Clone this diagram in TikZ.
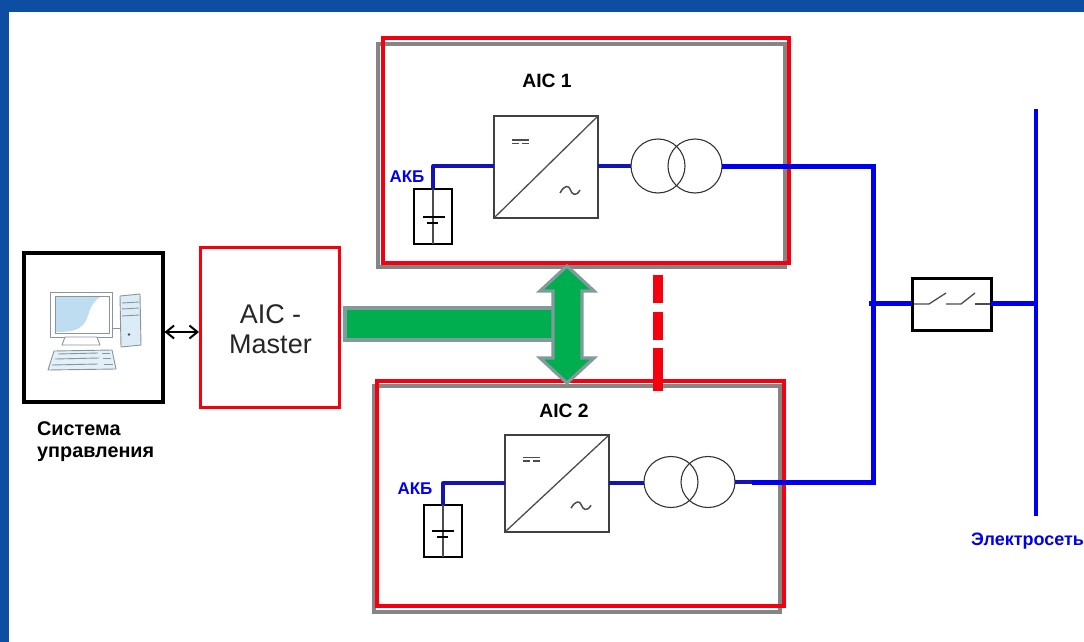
\documentclass[tikz,border=0pt]{standalone}
\usepackage{fontspec}
\setmainfont{Liberation Sans}
\usetikzlibrary{arrows.meta}
\definecolor{frameblue}{HTML}{0D4EA3}
\definecolor{aicred}{HTML}{F5000F}
\definecolor{shadowgray}{HTML}{858585}
\definecolor{busblue}{HTML}{0000F0}
\definecolor{wireblue}{HTML}{1414B4}
\definecolor{busgreen}{HTML}{00AE50}
\definecolor{busedge}{HTML}{7F9B9B}
\definecolor{pcline}{HTML}{8A949A}
\definecolor{pcblue}{HTML}{BFDDF0}
\tikzset{
  pxbox/.style={rectangle,inner sep=0pt,outer sep=0pt,draw,anchor=center},
  redbox/.style={pxbox,draw=aicred,line width=3.4pt},
  graybox/.style={pxbox,draw=shadowgray,line width=3.4pt},
  blackbox/.style={pxbox,draw=black,line width=3.2pt},
  convbox/.style={pxbox,draw=black!75,line width=1.5pt,minimum width=104pt},
  battbox/.style={pxbox,draw=black,line width=2pt,minimum width=38pt},
  thinwire/.style={draw=wireblue,line width=3.2pt},
  thickwire/.style={draw=busblue,line width=5pt},
  symline/.style={draw=black!70,line width=1.3pt},
  coil/.style={draw=black!80,line width=1.1pt},
  pc/.style={draw=pcline,line width=0.9pt,line join=round},
  bluelabel/.style={text=busblue,font=\bfseries\fontsize{17}{20}\selectfont,inner sep=0pt},
  gridlabel/.style={text=busblue,font=\bfseries\fontsize{18}{20}\selectfont,inner sep=0pt},
  blacklabel/.style={text=black,font=\bfseries\fontsize{19.3}{22}\selectfont,inner sep=0pt},
}
\newcommand{\convsym}{%
  \draw[symline] (0,102) -- (104,0);
  \draw[symline] (18,24) -- (35,24);
  \draw[symline,dash pattern=on 7pt off 3pt] (18,27.5) -- (35,27.5);
  \draw[symline,line width=1.5pt] (66,77) .. controls (71,68) and (75,70) .. (76,73) .. controls (78,79) and (82,81) .. (86,74);
}
\begin{document}
\begin{tikzpicture}[x=1pt,y=-1pt]
\useasboundingbox (0,0) rectangle (1084,642);
\fill[frameblue] (0,0) rectangle (1084,642);
\fill[white] (9,12) rectangle (1084,642);

% control system
\node[blackbox,minimum width=139pt,minimum height=149pt] (pcbox) at (93.5,327.5) {};
\begin{scope}
  \filldraw[pc,fill=white] (50,292) -- (112,292) -- (112,337) -- (50,337) -- cycle;
  \filldraw[pc,fill=white] (55,296) -- (109,296) -- (109,333) -- (55,333) -- cycle;
  \fill[pcblue] (56,297) -- (100,297) .. controls (87,306) and (90,318) .. (83,325) .. controls (78,330) and (72,332) .. (56,332) -- cycle;
  \filldraw[pc,fill=white] (65,337) -- (97,337) -- (100,345) -- (62,345) -- cycle;
  \filldraw[pc,fill=pcblue!55] (120,296) -- (140,294) -- (141,345) -- (121,347) -- cycle;
  \draw[pc] (122,303) -- (139,302) (122,309) -- (139,308) (122,316) -- (139,315);
  \fill[black!70] (129,334.5) circle (1.4pt);
  \draw[pc] (112,328) -- (120,328);
  \filldraw[pc,fill=pcblue!45] (54,351) -- (112,350) -- (116,369) -- (48,370) -- cycle;
  \draw[pc] (58,354) -- (98,353) (55,359) -- (99,358) (52,365) -- (98,364);
  \draw[pc] (102,353) -- (110,353) (103,358) -- (111,358) (104,364) -- (113,364);
\end{scope}
\node[blacklabel,font=\bfseries\fontsize{19.8}{22}\selectfont,align=left,anchor=north west,text width=125pt] (pclabel) at (37,421.5) {Система\\управления};

% master
\node[redbox,minimum width=139pt,minimum height=160pt] (master) at (270,327.5) {};
\node[text=black!85,font=\fontsize{27}{30}\selectfont,align=center,inner sep=0pt] (mastertext) at (270.5,329.5) {AIC -\\Master};
\draw[{Straight Barb[length=8pt,width=13pt]}-{Straight Barb[length=8pt,width=13pt]},line width=2pt,shorten <=1.5pt,shorten >=1.5pt] (pcbox.east |- 0,332) -- (master.west |- 0,332);

% AIC 1
\node[graybox,minimum width=407pt,minimum height=223pt] (g1) at (581.5,155.5) {};
\node[redbox,minimum width=406pt,minimum height=225pt] (aic1) at (586,150.5) {};
\node[blacklabel] (t1) at (547,81) {AIC 1};
\node[convbox,minimum height=102pt] (conv1) at (546,167) {};
\begin{scope}[shift={(494,116)}]\convsym\end{scope}
\node[battbox,minimum height=55pt] (bat1) at (433,216.5) {};
\draw[symline] (bat1.north) -- (bat1.south);
\draw[black,line width=2.2pt] (423,217) -- (445,217);
\draw[black,line width=2.2pt] (427,223) -- (438,223);
\node[bluelabel] (akb1) at (407,177) {АКБ};
\draw[coil] (658,166) circle (27pt);
\draw[coil] (695,166) circle (27pt);
\coordinate (t1in) at (631,166);
\coordinate (t1out) at (722,166);
\coordinate (c1in) at (494,166);
\coordinate (c1out) at (598,166);
\draw[thinwire,line join=round] (bat1.north) -- (bat1.north |- c1in) -- (c1in);
\draw[thinwire] (c1out) -- (t1in);

% AIC 2
\node[graybox,minimum width=406pt,minimum height=226pt] (g2) at (577,499) {};
\node[redbox,minimum width=407pt,minimum height=225pt] (aic2) at (580.5,493.5) {};
\node[blacklabel] (t2) at (564,411) {AIC 2};
\node[convbox,minimum height=97pt] (conv2) at (557,483.5) {};
\begin{scope}[shift={(505,435)},yscale=0.95]\convsym\end{scope}
\node[battbox,minimum height=52pt] (bat2) at (443,531) {};
\draw[symline] (bat2.north) -- (bat2.south);
\draw[black,line width=2.2pt] (432,531) -- (454,531);
\draw[black,line width=2.2pt] (437,537) -- (448,537);
\node[bluelabel] (akb2) at (415,489) {АКБ};
\draw[coil] (671,482) ellipse (27pt and 25.5pt);
\draw[coil] (708,482) ellipse (27pt and 25.5pt);
\coordinate (t2in) at (644,483);
\coordinate (t2out) at (735,482);
\coordinate (c2in) at (505,483);
\coordinate (c2out) at (609,483);
\coordinate (t2th) at (752,482);
\draw[thinwire,line join=round] (bat2.north) -- (bat2.north |- c2in) -- (c2in);
\draw[thinwire] (c2out) -- (t2in);
\draw[thinwire] (t2out) -- (t2th);

% right-hand network
\coordinate (jtop) at (873,166);
\coordinate (jbot) at (873,482);
\coordinate (jmid) at (869,303);
\draw[thickwire,line join=miter] (t1out) -- (jtop) -- (jbot) -- (t2th);
\node[blackbox,minimum width=79pt,minimum height=52pt,line width=3pt] (breaker) at (951.5,304) {};
\coordinate (bustop) at (1036,109);
\coordinate (busbot) at (1036,516);
\draw[draw=busblue,line width=4pt] (bustop) -- (busbot);
\draw[thickwire] (jmid) -- (breaker.west |- jmid);
\draw[thickwire] (breaker.east |- jmid) -- (bustop |- jmid);
\draw[symline] (914,304) -- (929,304) -- (946,293);
\draw[symline] (946,304) -- (961,304) -- (975,293);
\draw[symline] (975,304) -- (990,304);
\node[gridlabel,anchor=west] (grid) at (971,541) {Электросеть};

% green bus
\node[pxbox,draw=busedge,fill=busgreen,line width=3.2pt,minimum width=210pt,minimum height=32pt] (bar) at (450,324) {};
\draw[draw=busedge,fill=busgreen,line width=3.2pt,line join=miter,miter limit=10] (567,266) -- (594,291) -- (582,291) -- (582,358) -- (594,358) -- (567,383) -- (540,358) -- (553,358) -- (553,291) -- (540,291) -- cycle;

% red dashes
\draw[draw=aicred,line width=10pt] (658,275) -- (658,303) (658,312) -- (658,340) (658,348) -- (658,391);
\end{tikzpicture}
\end{document}
